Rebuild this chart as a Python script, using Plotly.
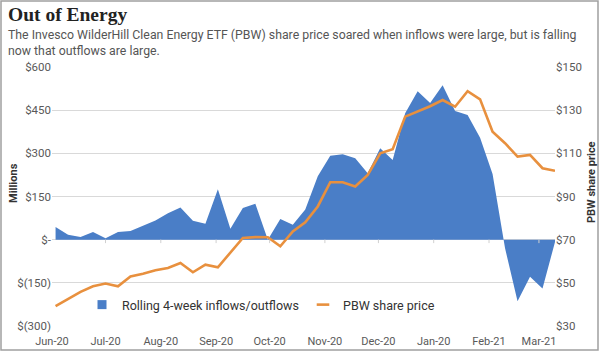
import plotly.graph_objects as go
import pandas as pd

# ---- data ----
dates = pd.date_range("2020-06-03", periods=41, freq="7D")
flows = [44, 17, 9, 27, 5, 27, 30, 48, 67, 92, 112, 66, 55, 175, 38, 110, 125, 0, 72, 52,
         105, 220, 292, 297, 283, 231, 318, 277, 439, 516, 475, 537, 447, 433, 354, 228,
         -30, -214, -129, -170, -8]
price = [39.2, 42.7, 45.8, 48.4, 49.7, 48.4, 52.9, 54.2, 55.8, 56.9, 59.2, 54.9, 58.4, 57.2,
         63.9, 70.8, 71.2, 71.1, 66.9, 73.8, 78.0, 85.4, 96.6, 96.6, 94.6, 100.0, 110.0, 111.9,
         127.0, 129.3, 131.8, 134.7, 131.6, 138.8, 135.0, 120.0, 114.7, 108.5, 109.3, 103.1, 101.9]

month_ticks = ["2020-06-01", "2020-07-01", "2020-08-01", "2020-09-01", "2020-10-01",
               "2020-11-01", "2020-12-01", "2021-01-01", "2021-02-01", "2021-03-01"]
month_labels = ["Jun-20", "Jul-20", "Aug-20", "Sep-20", "Oct-20", "Nov-20", "Dec-20",
                "Jan-20", "Feb-21", "Mar-21"]
left_vals = [600, 450, 300, 150, 0, -150, -300]
left_text = ["$600", "$450", "$300", "$150", "$-", "$(150)", "$(300)"]
right_vals = [150, 130, 110, 90, 70, 50, 30]
right_text = ["$150", "$130", "$110", "$90", "$70", "$50", "$30"]
series_names = ["Rolling 4-week inflows/outflows", "PBW share price"]

BLUE = "#4A7EC7"
ORANGE = "#E8903E"
GRAY = "#595959"

fig = go.Figure()
fig.add_trace(go.Scatter(x=dates, y=flows, name=series_names[0], showlegend=False,
                         mode="lines", fill="tozeroy", fillcolor=BLUE,
                         line=dict(width=0, color=BLUE), yaxis="y"))
fig.add_trace(go.Scatter(x=dates, y=price, name=series_names[1], showlegend=False,
                         mode="lines", line=dict(width=2.6, color=ORANGE), yaxis="y2"))
# legend keys (compact symbols like the original)
fig.add_trace(go.Scatter(x=[None], y=[None], name=series_names[0], mode="markers",
                         marker=dict(symbol="square", size=9, color=BLUE), legend="legend"))
fig.add_trace(go.Scatter(x=[None], y=[None], name=series_names[1], mode="markers",
                         marker=dict(symbol="line-ew", size=9,
                                     line=dict(width=2.6, color=ORANGE)), legend="legend2"))

W, H = 600, 352
L, R, T, B = 52, 45, 67, 26
pw, ph = W - L - R, H - T - B

def px_x(x):
    return (x - L) / pw

def px_y(y):
    return (H - B - y) / ph

# small tick marks on the zero line at month ticks
tick_shapes = [dict(type="line", xref="x", yref="y", x0=d, x1=d, y0=0, y1=-12,
                    line=dict(color="#D0D0D0", width=1), layer="above")
               for d in month_ticks[1:]]

legend_common = dict(orientation="h", yanchor="middle", xanchor="left",
                     font=dict(size=12.5, color="#333333"), bgcolor="rgba(0,0,0,0)")

fig.update_layout(
    width=W, height=H,
    margin=dict(l=L, r=R, t=T, b=B, autoexpand=False),
    paper_bgcolor="white", plot_bgcolor="white",
    font=dict(family="Roboto", size=11, color=GRAY),
    showlegend=True,
    legend=dict(x=px_x(82), y=px_y(305), **legend_common),
    legend2=dict(x=px_x(303), y=px_y(305), **legend_common),
    xaxis=dict(type="date", range=["2020-06-01", "2021-03-10"], tickvals=month_ticks,
               ticktext=month_labels, showgrid=False, zeroline=False, showline=False,
               automargin=False, ticks="", ticklabelstandoff=7,
               tickfont=dict(size=11, color=GRAY)),
    yaxis=dict(range=[-300, 600], tickvals=left_vals, ticktext=left_text, showgrid=True,
               gridcolor="#D9D9D9", gridwidth=1, zeroline=False, ticks="", automargin=False,
               tickfont=dict(size=11.5, color=GRAY)),
    yaxis2=dict(range=[30, 150], tickvals=right_vals, ticktext=right_text, overlaying="y",
                side="right", showgrid=False, zeroline=False, ticks="", automargin=False,
                tickfont=dict(size=11.5, color=GRAY)),
    annotations=[
        dict(text="<b>Out of Energy</b>", x=px_x(6), y=px_y(15), xref="paper", yref="paper",
             xanchor="left", yanchor="middle", showarrow=False,
             font=dict(family="Liberation Serif", size=19.5, color="#222222")),
        dict(text="The Invesco WilderHill Clean Energy ETF (PBW) share price soared when inflows were large, but is falling<br>now that outflows are large.",
             x=px_x(6), y=px_y(26), xref="paper", yref="paper", xanchor="left", yanchor="top",
             align="left", showarrow=False,
             font=dict(family="Roboto", size=12.3, color="#555555")),
        dict(text="<b>Millions</b>", x=px_x(13), y=px_y(183), xref="paper", yref="paper",
             xanchor="center", yanchor="middle", textangle=-90, showarrow=False,
             font=dict(family="Roboto", size=11, color="#333333")),
        dict(text="<b>PBW share price</b>", x=px_x(591), y=px_y(182), xref="paper", yref="paper",
             xanchor="center", yanchor="middle", textangle=-90, showarrow=False,
             font=dict(family="Roboto", size=11, color="#333333")),
    ],
    shapes=tick_shapes + [
        dict(type="rect", xref="paper", yref="paper", x0=px_x(1), x1=px_x(598),
             y0=px_y(350), y1=px_y(1), line=dict(color="#A0A0A0", width=1.5)),
    ],
)
fig.write_html("out.html")
